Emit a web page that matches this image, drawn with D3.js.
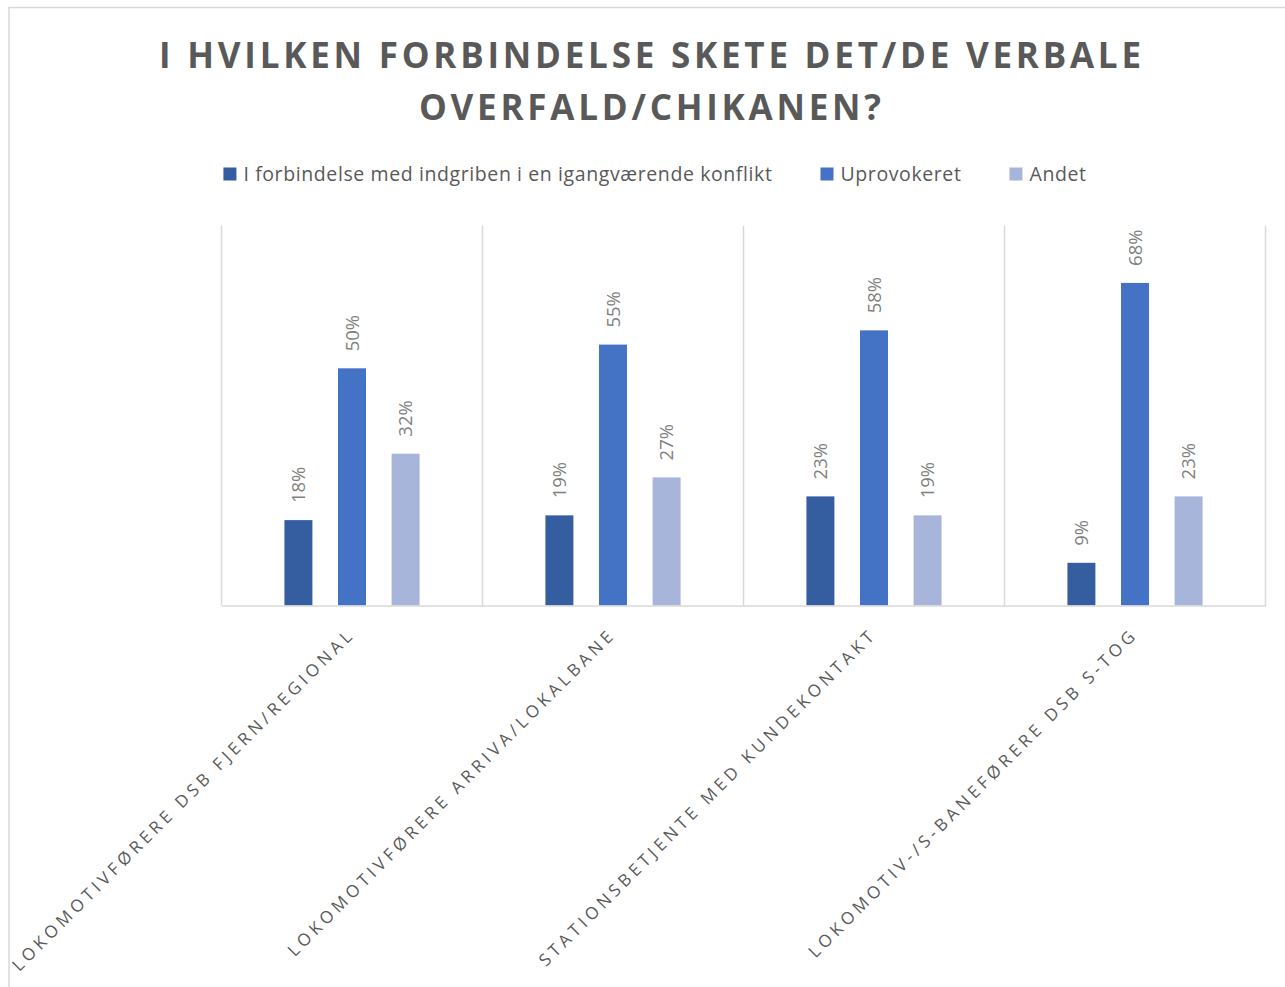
<!DOCTYPE html>
<html>
<head>
<meta charset="utf-8">
<script src="https://cdn.jsdelivr.net/npm/d3@7"></script>
<style>
  html, body { margin: 0; padding: 0; background: #ffffff; }
  svg { display: block; }
</style>
</head>
<body>
<div id="chart"></div>
<script>
// ---------- DATA ----------
const titleLines = ["I HVILKEN FORBINDELSE SKETE DET/DE VERBALE", "OVERFALD/CHIKANEN?"];
const categories = [
  "LOKOMOTIVFØRERE DSB FJERN/REGIONAL",
  "LOKOMOTIVFØRERE ARRIVA/LOKALBANE",
  "STATIONSBETJENTE MED KUNDEKONTAKT",
  "LOKOMOTIV-/S-BANEFØRERE DSB S-TOG"
];
const seriesNames = [
  "I forbindelse med indgriben i en igangværende konflikt",
  "Uprovokeret",
  "Andet"
];
const konfliktValues    = [0.18, 0.19, 0.23, 0.09];
const uprovokeretValues = [0.50, 0.55, 0.58, 0.68];
const andetValues       = [0.32, 0.27, 0.19, 0.23];
const seriesColors = ["#355EA1", "#4472C4", "#A7B5DA"];
const yMax = 0.8;

// ---------- LAYOUT ----------
const W = 1285, H = 987;
const plot = { left: 221.5, right: 1265.5, top: 226, bottom: 605.5 };
const textGray = "#595959";
const labelGray = "#7F7F7F";
const gridGray = "#D9D9D9";
const font = "'Open Sans', 'Noto Sans', sans-serif";

const seriesValues = [konfliktValues, uprovokeretValues, andetValues];
const rows = categories.map((c, i) => ({
  cat: c,
  vals: seriesNames.map((s, j) => ({ series: s, idx: j, value: seriesValues[j][i] }))
}));

const svg = d3.select("#chart").append("svg")
  .attr("width", W).attr("height", H)
  .attr("font-family", font);

svg.append("rect").attr("x", 0).attr("y", 0).attr("width", W).attr("height", H).attr("fill", "#fff");
// chart border (extends beyond right/bottom edge like reference)
svg.append("rect").attr("x", 9).attr("y", 7.5).attr("width", 1300).attr("height", 1000)
  .attr("fill", "none").attr("stroke", gridGray).attr("stroke-width", 1.5);

// ---------- TITLE ----------
const titleCx = 650;
const tl = svg.append("g").attr("fill", textGray)
  .attr("font-weight", 700).attr("font-size", 35).attr("text-anchor", "middle");
const titleWidths = [982, 462];
titleLines.forEach((t, i) => {
  tl.append("text").attr("x", titleCx).attr("y", 68 + i * 52)
    .attr("textLength", titleWidths[i]).attr("lengthAdjust", "spacing")
    .text(t);
});

// ---------- SCALES ----------
const x0 = d3.scaleBand().domain(categories).range([plot.left, plot.right]).padding(0);
const x1 = d3.scaleBand().domain(seriesNames).range([0, x0.bandwidth()])
  .paddingInner(0.478).paddingOuter(1.174);
const y = d3.scaleLinear().domain([0, yMax]).range([plot.bottom, plot.top]);
const color = d3.scaleOrdinal().domain(seriesNames).range(seriesColors);

// ---------- GRID / SEPARATORS ----------
const sepX = categories.map(c => x0(c)).concat([x0.range()[1]]);
svg.append("g").selectAll("line").data(sepX).join("line")
  .attr("x1", d => d).attr("x2", d => d)
  .attr("y1", plot.top).attr("y2", plot.bottom)
  .attr("stroke", gridGray).attr("stroke-width", 1.5);

// ---------- BARS ----------
const groups = svg.append("g").selectAll("g").data(rows).join("g")
  .attr("transform", d => `translate(${x0(d.cat)},0)`);
groups.selectAll("rect").data(d => d.vals).join("rect")
  .attr("x", d => x1(d.series))
  .attr("width", x1.bandwidth())
  .attr("y", d => y(d.value))
  .attr("height", d => y(0) - y(d.value))
  .attr("fill", d => color(d.series));

// value labels
const fmt = d3.format(".0%");
groups.selectAll("text").data(d => d.vals).join("text")
  .attr("transform", d => `translate(${x1(d.series) + x1.bandwidth() / 2},${y(d.value) - 17}) rotate(-90)`)
  .attr("dy", "0.36em")
  .attr("text-anchor", "start")
  .attr("font-size", 18.5)
  .attr("fill", labelGray)
  .text(d => fmt(d.value));

// x axis baseline
const xAxis = d3.axisBottom(x0).tickSize(0).tickFormat("");
const axG = svg.append("g").attr("transform", `translate(0,${plot.bottom})`).call(xAxis);
axG.select(".domain").attr("stroke", gridGray).attr("stroke-width", 1.5);

// category labels, rotated -45
const catLS = 4.1;
svg.append("g").selectAll("text").data(categories).join("text")
  .attr("transform", d => `translate(${x0(d) + x0.bandwidth() / 2 + 1 + catLS * 0.707},${plot.bottom + 27 + catLS * 0.707}) rotate(-45)`)
  .attr("text-anchor", "end")
  .attr("font-size", 17)
  .attr("letter-spacing", catLS + "px")
  .attr("fill", textGray)
  .text(d => d);

// ---------- LEGEND ----------
const legend = svg.append("g").attr("font-size", 19.5).attr("letter-spacing", "0.6px").attr("fill", textGray);
const items = legend.selectAll("g").data(seriesNames).join("g");
items.append("rect").attr("width", 13).attr("height", 13).attr("y", 167.5)
  .attr("fill", d => color(d));
items.append("text").attr("x", 20).attr("y", 181).text(d => d);
let widths = [];
items.each(function() {
  widths.push(this.querySelector("text").getComputedTextLength());
});
const gap = 48;
const itemW = widths.map(w => 20 + w);
const total = d3.sum(itemW) + gap * (itemW.length - 1);
let cx = 655 - total / 2;
items.attr("transform", (d, i) => {
  const tx = cx; cx += itemW[i] + gap;
  return `translate(${tx},0)`;
});
</script>
</body>
</html>
